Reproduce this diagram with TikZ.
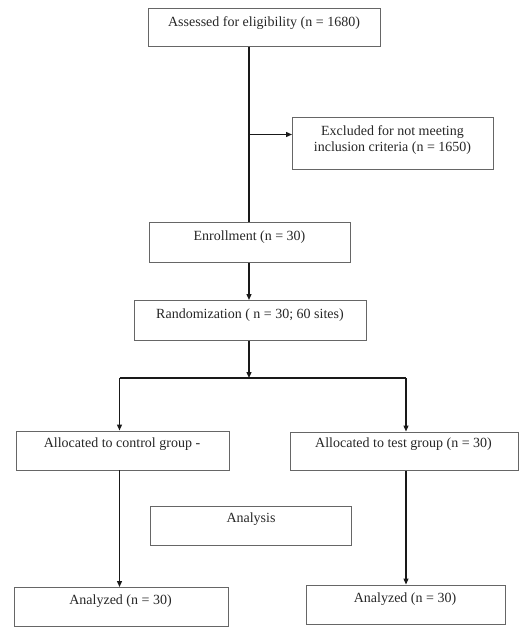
\documentclass[tikz,border=0pt]{standalone}
\usepackage{fontspec}
\setmainfont{Liberation Serif}
\usetikzlibrary{arrows.meta}
\begin{document}
\begin{tikzpicture}[x=1pt,y=-1pt,
  box/.style={draw=black!60, line width=0.8pt, rectangle, anchor=north west, inner sep=0pt},
  txt/.style={font=\fontsize{14}{16.5}\selectfont, inner sep=0pt, align=center, text=black!85},
  conn/.style={draw=black!90, line width=1.3pt},
  arr/.style={conn, -{Triangle[length=6pt,width=5pt]}}]
\useasboundingbox (0,0) rectangle (528,630);
% boxes
\node[box, minimum width=232pt, minimum height=38pt] (assess) at (148,8) {};
\node[txt] (assesst) at (264,23) {Assessed for eligibility (n = 1680)};
\node[box, minimum width=201pt, minimum height=52pt] (excl) at (292,117) {};
\node[txt] (exclt) at (392.5,140) {Excluded for not meeting\\inclusion criteria (n = 1650)};
\node[box, minimum width=201pt, minimum height=40pt] (enrol) at (149,222) {};
\node[txt] (enrolt) at (249.5,237) {Enrollment (n = 30)};
\node[box, minimum width=232pt, minimum height=40pt] (rand) at (134,300) {};
\node[txt] (randt) at (250,315) {Randomization ( n = 30; 60 sites)};
\node[box, minimum width=213pt, minimum height=39pt] (ctrl) at (15.5,430.5) {};
\node[txt] (ctrlt) at (122,444.5) {Allocated to control group -};
\node[box, minimum width=228pt, minimum height=38.5pt] (test) at (289.5,431.5) {};
\node[txt] (testt) at (403.5,444.5) {Allocated to test group (n = 30)};
\node[box, minimum width=201pt, minimum height=39pt] (anal) at (150,506) {};
\node[txt] (analt) at (251,519.5) {Analysis};
\node[box, minimum width=214pt, minimum height=39pt] (aleft) at (13.5,587) {};
\node[txt] (aleftt) at (120.5,601.5) {Analyzed (n = 30)};
\node[box, minimum width=199pt, minimum height=39pt] (aright) at (305.5,584.5) {};
\node[txt] (arightt) at (405,599) {Analyzed (n = 30)};
% connectors
\coordinate (br) at (249,134.5);
\coordinate (split) at (249,378);
\coordinate (sl) at (119.5,378);
\coordinate (sr) at (406,378);
\draw[conn] (assess.south -| br) -- (enrol.north -| br);
\draw[arr] (br) -- (excl.west |- br);
\draw[arr] (enrol.south -| br) -- (rand.north -| br);
\draw[arr] (rand.south -| br) -- (split);
\draw[conn] (sl) -- (sr);
\draw[arr] (sl) -- (ctrl.north -| sl);
\draw[arr] (sr) -- (test.north -| sr);
\draw[arr] (ctrl.south -| sl) -- (aleft.north -| sl);
\draw[arr] (test.south -| sr) -- (aright.north -| sr);
\end{tikzpicture}
\end{document}
